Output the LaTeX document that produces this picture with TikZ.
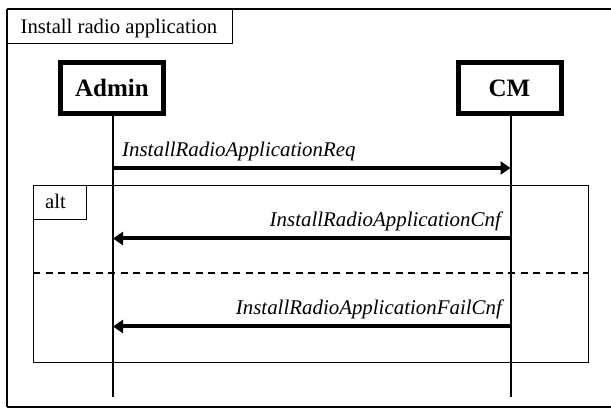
\documentclass[tikz,border=0pt]{standalone}
\usepackage{fontspec}
\setmainfont{Liberation Serif}
\usetikzlibrary{arrows.meta}
\begin{document}
\begin{tikzpicture}[x=1pt,y=-1pt,
  frame/.style={draw=black,line width=1.4pt},
  actor/.style={draw=black,line width=5pt,minimum width=103pt,minimum height=51pt,inner sep=0pt,font=\fontsize{25}{29}\selectfont\bfseries},
  lifeline/.style={line width=2pt},
  msg/.style={line width=4pt,-{Triangle[length=10pt,width=13pt]}},
  msglabel/.style={inner sep=0pt,font=\fontsize{20.9}{24}\selectfont\itshape},
  plainlabel/.style={inner sep=0pt,font=\fontsize{20.7}{24}\selectfont}]
\useasboundingbox (0,0) rectangle (611,414);
\clip (0,0) rectangle (611,414);
% outer frame
\draw[frame] (7,9) -- (620,9);
\draw[frame] (7,407) -- (620,407);
\draw[frame] (7,9) -- (7,407);
\node[frame,minimum width=225pt,minimum height=34pt,inner sep=0pt,anchor=north west] (title) at (7,9) {};
\node[plainlabel,anchor=base west] (titletext) at (20.5,33.5) {Install radio application};
% actors
\node[actor] (admin) at (112,88) {Admin};
\node[actor] (cm) at (509.5,88) {CM};
\coordinate (adminend) at (113,397);
\coordinate (cmend) at (510.5,397);
\draw[lifeline] (113,116) -- (adminend);
\draw[lifeline] (510.5,116) -- (cmend);
% alt frame
\node[frame,minimum width=555pt,minimum height=177pt,inner sep=0pt,anchor=north west] (alt) at (33,185) {};
\node[frame,minimum width=53pt,minimum height=34pt,inner sep=0pt,anchor=north west] (altbox) at (33,185) {};
\node[plainlabel,anchor=base west] (alttext) at (45,209) {alt};
\coordinate (dl) at (33,273);
\coordinate (dr) at (588,273);
\draw[line width=2pt,dash pattern=on 7pt off 5.5pt] (dl) -- (dr);
% messages
\coordinate (a1) at (113,168);
\coordinate (c1) at (510.5,168);
\coordinate (a2) at (113,238.5);
\coordinate (c2) at (510.5,238.5);
\coordinate (a3) at (113,326.5);
\coordinate (c3) at (510.5,326.5);
\draw[msg] (a1) -- (c1);
\draw[msg] (c2) -- (a2);
\draw[msg] (c3) -- (a3);
\node[msglabel,anchor=base west] (l1) at (122,156.5) {InstallRadioApplicationReq};
\node[msglabel,anchor=base east] (l2) at (501,226.5) {InstallRadioApplicationCnf};
\node[msglabel,anchor=base east] (l3) at (502,314.5) {InstallRadioApplicationFailCnf};
\end{tikzpicture}
\end{document}
